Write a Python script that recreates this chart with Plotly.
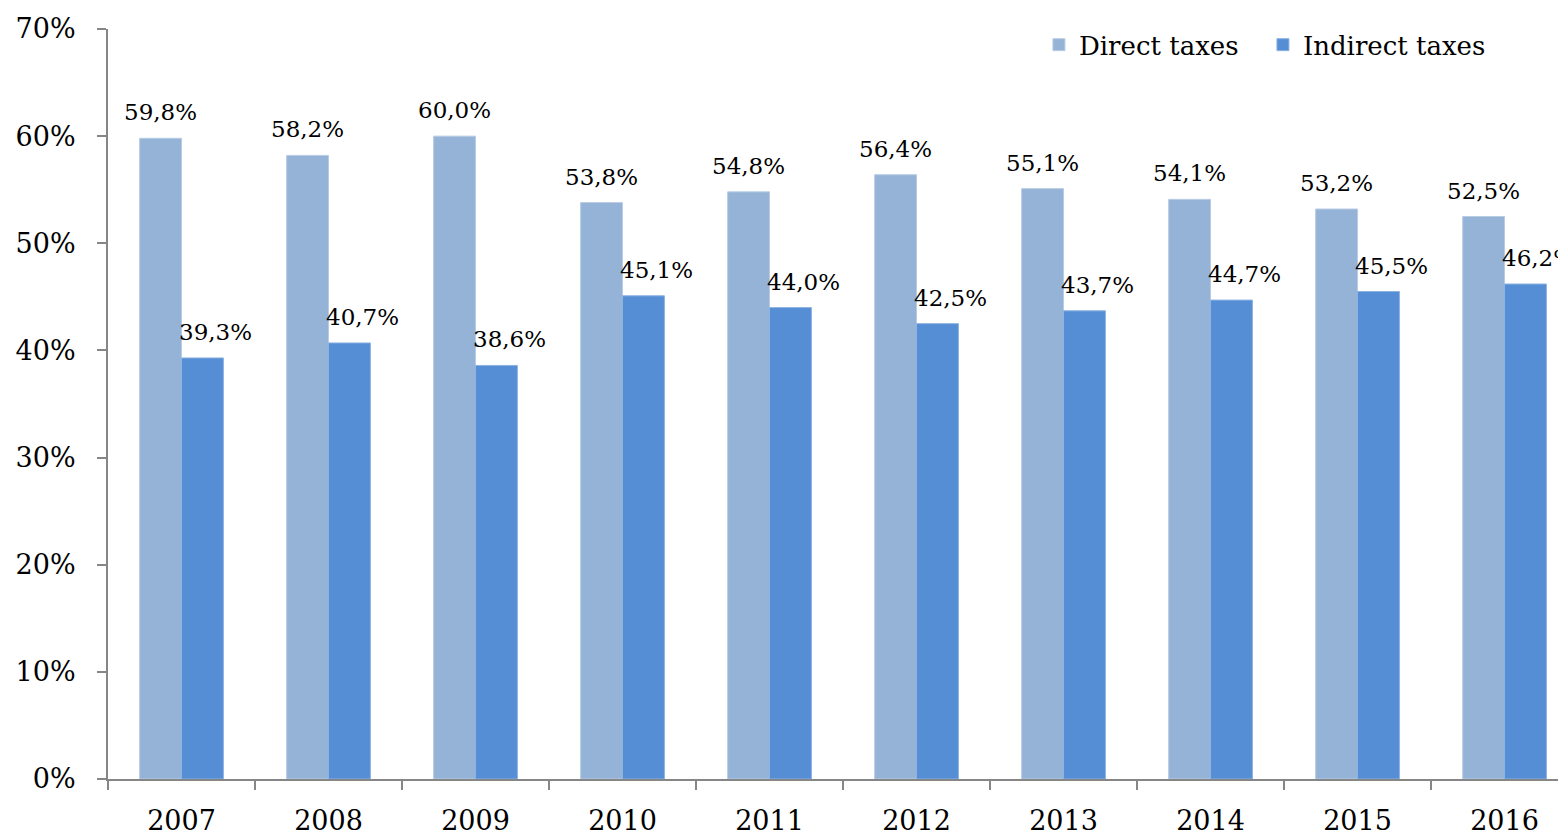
import plotly.graph_objects as go

years = ["2007", "2008", "2009", "2010", "2011", "2012", "2013", "2014", "2015", "2016"]
direct = [59.8, 58.2, 60.0, 53.8, 54.8, 56.4, 55.1, 54.1, 53.2, 52.5]
indirect = [39.3, 40.7, 38.6, 45.1, 44.0, 42.5, 43.7, 44.7, 45.5, 46.2]
y_ticks = [0, 10, 20, 30, 40, 50, 60, 70]

FONT = "DejaVu Serif"
C_DIRECT = "#95B3D7"
C_INDIRECT = "#558ED5"

fig = go.Figure()
fig.add_trace(go.Bar(name="Direct taxes", x=years, y=direct,
                     marker=dict(color=C_DIRECT, line=dict(color="#B8CCE4", width=1))))
fig.add_trace(go.Bar(name="Indirect taxes", x=years, y=indirect,
                     marker=dict(color=C_INDIRECT, line=dict(color="#8DB3E2", width=1))))

def fmt(v):
    return f"{v:.1f}".replace(".", ",") + "%"

ann = []
for idx, (d, i) in enumerate(zip(direct, indirect)):
    ann.append(dict(x=idx, y=d, xref="x", yref="y", text=fmt(d), showarrow=False,
                    xanchor="center", yanchor="bottom", xshift=-21, yshift=11,
                    font=dict(family=FONT, size=23, color="#000")))
    ann.append(dict(x=idx, y=i, xref="x", yref="y", text=fmt(i), showarrow=False,
                    xanchor="center", yanchor="bottom", xshift=34, yshift=11,
                    font=dict(family=FONT, size=23, color="#000")))

fig.update_layout(
    width=1558, height=826,
    margin=dict(l=100, r=0, t=21, b=55, autoexpand=False),
    paper_bgcolor="white", plot_bgcolor="white",
    barmode="group", bargap=0.43, bargroupgap=0,
    font=dict(family=FONT, size=27, color="#000"),
    annotations=ann,
    legend=dict(orientation="h", x=0.6385, y=0.979, xanchor="left", yanchor="middle",
                font=dict(family=FONT, size=26), bgcolor="rgba(0,0,0,0)", itemwidth=30,
                traceorder="normal", entrywidth=179),
    xaxis=dict(type="category", range=[-0.5, 9.418], showline=True, linecolor="#868686", linewidth=2,
               ticks="outside", tickson="boundaries", ticklen=9, tickcolor="#868686", tickwidth=2,
               showgrid=False, tickfont=dict(family=FONT, size=27), automargin=False,
               ticklabelstandoff=17),
    yaxis=dict(range=[0, 70], tickvals=y_ticks, ticktext=[f"{v}%" for v in y_ticks],
               showline=True, linecolor="#868686", linewidth=2, ticks="outside", ticklen=9,
               tickcolor="#868686", tickwidth=2, showgrid=False, zeroline=False,
               tickfont=dict(family=FONT, size=27), automargin=False, ticklabelstandoff=16),
)

fig.write_html("out.html")
